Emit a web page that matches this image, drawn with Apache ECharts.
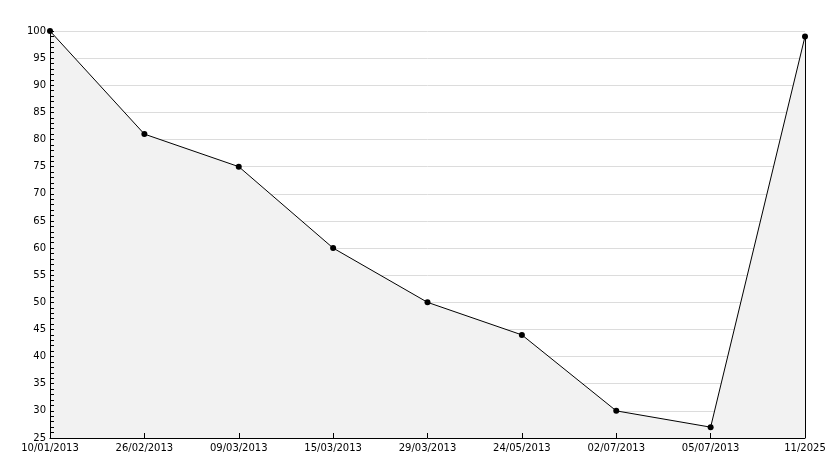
<!DOCTYPE html>
<html><head><meta charset="utf-8">
<script src="https://cdn.jsdelivr.net/npm/echarts@6/dist/echarts.min.js"></script>
<style>html,body{margin:0;padding:0;background:#fff}#c{width:834px;height:468px}</style>
</head><body><div id="c"></div>
<script>
const categories = ['10/01/2013','26/02/2013','09/03/2013','15/03/2013','29/03/2013','24/05/2013','02/07/2013','05/07/2013','11/2025'];
const values = [100, 81, 75, 60, 50, 44, 30, 27, 99];
const yMin = 25, yMax = 100, yStep = 5;

const chart = echarts.init(document.getElementById('c'));
const font = {fontFamily: 'DejaVu Sans', fontSize: 10, color: '#000'};
const lastIdx = values.length - 1;
chart.setOption({
  animation: false,
  backgroundColor: '#fff',
  grid: {left: 50, right: 29, top: 31, bottom: 30},
  xAxis: {
    type: 'category', data: categories, boundaryGap: false, z: 5,
    axisLine: {lineStyle: {color: '#000', width: 1}},
    axisTick: {show: true, inside: true, length: 5, alignWithLabel: true, lineStyle: {color: '#000'}},
    axisLabel: Object.assign({margin: 5, interval: 0}, font),
    splitLine: {show: false}
  },
  yAxis: [{
    type: 'value', min: yMin, max: yMax, interval: yStep, z: 0,
    axisLine: {show: false},
    axisTick: {show: false},
    axisLabel: Object.assign({margin: 4}, font),
    splitLine: {show: true, lineStyle: {color: '#dcdcdc', width: 1}}
  }, {
    type: 'value', min: yMin, max: yMax, interval: yStep, z: 5, position: 'left', offset: 0,
    axisLine: {show: true, lineStyle: {color: '#000', width: 1}},
    axisTick: {show: true, inside: true, length: 4, lineStyle: {color: '#000'}},
    minorTick: {show: true, splitNumber: 5, length: 4, lineStyle: {color: '#000'}},
    axisLabel: {show: false},
    splitLine: {show: false}
  }],
  series: [{
    type: 'line', data: values, yAxisIndex: 0,
    symbol: 'circle', symbolSize: 6, z: 2,
    itemStyle: {color: '#000'},
    lineStyle: {color: '#000', width: 1},
    areaStyle: {color: '#f2f2f2', opacity: 1, origin: 'start'},
    markLine: {
      silent: true, symbol: 'none', label: {show: false},
      lineStyle: {color: '#000', width: 1, type: 'solid'},
      data: [[{coord: [categories[lastIdx], yMin]}, {coord: [categories[lastIdx], values[lastIdx]]}]]
    }
  }]
});
</script></body></html>
